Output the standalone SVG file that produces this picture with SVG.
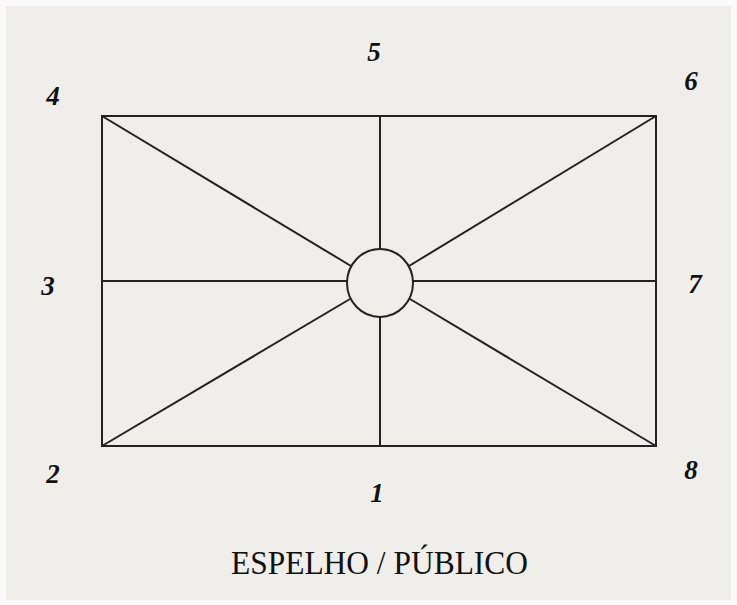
<svg xmlns="http://www.w3.org/2000/svg" width="737" height="605" viewBox="0 0 737 605">
<style>
.ln{stroke:#222;stroke-width:2;fill:none}
.num{font-family:"Liberation Serif",serif;font-weight:bold;font-style:italic;font-size:27px;fill:#111;text-anchor:middle}
.ttl{font-family:"Liberation Serif",serif;font-size:34px;fill:#111}
</style>
<rect width="737" height="605" fill="#fafafa"/>
<rect x="6" y="6" width="725" height="594" fill="#f0eeeb"/>
<g id="connectors">
<rect class="ln" x="102" y="116" width="554" height="330"/>
<line class="ln" x1="380" y1="116" x2="380" y2="249"/>
<line class="ln" x1="380" y1="317" x2="380" y2="446"/>
<line class="ln" x1="102" y1="281" x2="347" y2="281"/>
<line class="ln" x1="413" y1="281" x2="656" y2="281"/>
<line class="ln" x1="102" y1="116" x2="351" y2="266"/>
<line class="ln" x1="656" y1="116" x2="409" y2="266"/>
<line class="ln" x1="102" y1="446" x2="350" y2="299"/>
<line class="ln" x1="656" y1="446" x2="410" y2="299"/>
</g>
<g id="center"><ellipse class="ln" cx="380" cy="283" rx="33" ry="34"/></g>
<g id="n1"><text class="num" x="377" y="502">1</text></g>
<g id="n2"><text class="num" x="53" y="483">2</text></g>
<g id="n3"><text class="num" x="48" y="295">3</text></g>
<g id="n4"><text class="num" x="53" y="105">4</text></g>
<g id="n5"><text class="num" x="374" y="61">5</text></g>
<g id="n6"><text class="num" x="691" y="90">6</text></g>
<g id="n7"><text class="num" x="695" y="293">7</text></g>
<g id="n8"><text class="num" x="691" y="479">8</text></g>
<g id="title"><text class="ttl" x="231" y="574" textLength="297" lengthAdjust="spacingAndGlyphs">ESPELHO / PÚBLICO</text></g>
</svg>
